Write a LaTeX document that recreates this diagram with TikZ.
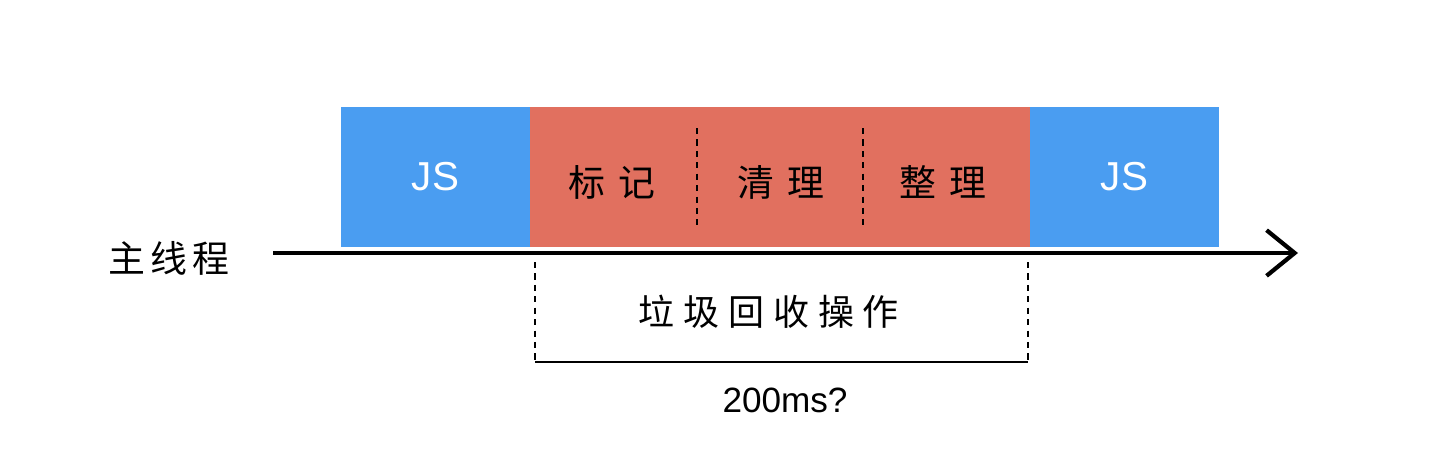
\documentclass[tikz,border=0pt]{standalone}
\usepackage{fontspec}
\setmainfont{Liberation Sans}
\newfontfamily\cjk{Noto Sans CJK SC}
\usetikzlibrary{arrows.meta}
\definecolor{jsblue}{HTML}{4A9DF1}
\definecolor{gcred}{HTML}{E1705F}
\newcommand\cgap{\hspace{7pt}}
\newcommand\sgap{\hspace{5pt}}
\tikzset{
  blk/.style={minimum height=140*0.02cm, inner sep=0pt, outer sep=0pt, anchor=north west},
  jsbox/.style={blk, fill=jsblue, minimum width=189*0.02cm, text=white, font=\fontsize{23}{23}\selectfont},
  gcbox/.style={blk, fill=gcred, minimum width=500*0.02cm},
  cjklbl/.style={font=\cjk\fontsize{21}{21}\selectfont, inner sep=0pt},
  divider/.style={line width=1.2pt, dash pattern=on 3.5pt off 3pt},
}
\begin{document}
\begin{tikzpicture}[x=0.02cm, y=-0.02cm]
\useasboundingbox (0,0) rectangle (1436,454);
\fill[white] (0,0) rectangle (1436,454);
% blocks
\node[jsbox] (js1) at (341,107) {JS};
\node[gcbox] (gc) at (530,107) {};
\node[jsbox] (js2) at (1030,107) {JS};
% labels in gc
\node[cjklbl] (mark) at (612,182) {标\cgap 记};
\node[cjklbl] (sweep) at (781,182) {清\cgap 理};
\node[cjklbl] (compact) at (943,182) {整\cgap 理};
\coordinate (d1t) at (697,128); \coordinate (d1b) at (697,225);
\coordinate (d2t) at (863,128); \coordinate (d2b) at (863,225);
\draw[divider] (d1t) -- (d1b);
\draw[divider] (d2t) -- (d2b);
% main thread
\node[font=\cjk\fontsize{21}{21}\selectfont, inner sep=0pt] (main) at (169,258) {主\hspace{3pt}线\hspace{3pt}程};
\coordinate (ls) at (273,253);
\coordinate (le) at (1298,253);
\draw[line width=2.6pt, -{Straight Barb[length=16pt, width=26pt, line width=2.4pt]}] (ls) -- (le);
% gc bracket
\coordinate (bl) at (535,262); \coordinate (blb) at (535,362);
\coordinate (br) at (1028,262); \coordinate (brb) at (1028,362);
\draw[divider] (bl) -- (blb);
\draw[divider] (br) -- (brb);
\draw[line width=1.4pt] (blb) -- (brb);
\node[font=\cjk\fontsize{20.5}{20.5}\selectfont, inner sep=0pt] (gclbl) at (769,312) {垃\sgap 圾\sgap 回\sgap 收\sgap 操\sgap 作};
\node[font=\fontsize{20}{20}\selectfont, inner sep=0pt] (time) at (785,400) {200ms?};
\end{tikzpicture}
\end{document}
